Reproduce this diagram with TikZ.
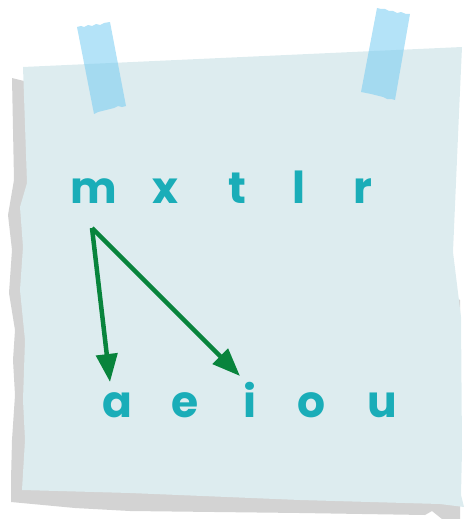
\documentclass[tikz,border=0pt]{standalone}
\usepackage{fontspec}
\setmainfont{Poppins}
\usepackage{tikz}
\usetikzlibrary{positioning, arrows.meta}

\definecolor{notebg}{RGB}{221,236,239}
\definecolor{noteshadow}{RGB}{211,211,211}
\definecolor{tapeblue}{RGB}{121,205,242}
\definecolor{letterteal}{RGB}{26,173,184}
\definecolor{arrowgreen}{RGB}{8,132,60}

\begin{document}
\begin{tikzpicture}[x=1pt, y=-1pt,
  ltr/.style={anchor=base, inner sep=0pt, text=letterteal,
    font=\fontsize{44}{44}\selectfont\bfseries},
  tape/.style={fill=tapeblue, fill opacity=0.56},
  link/.style={draw=arrowgreen, line width=4.5pt,
    -{Triangle[length=28pt,width=21pt]}}]
  \useasboundingbox (0,0) rectangle (467,519);
  % shadow and note
  \fill[noteshadow] (12,78) -- (14,180) -- (8,215) -- (12,250) -- (9,293)
    -- (15,330) -- (13,360) -- (15,395) -- (12,440) -- (11,480) -- (11,502)
    -- (75,508) -- (130,511) -- (300,513) -- (425,515) -- (432,511)
    -- (442,519) -- (460,519) -- (460,300) -- (100,100) -- cycle;
  \fill[notebg] (23,67) -- (462,47) -- (459,113) -- (453,252) -- (461,317)
    -- (462,450) -- (461,495) -- (464,507) -- (440,504) -- (300,500)
    -- (130,493) -- (22,490) -- (25,440) -- (23,400) -- (25,340)
    -- (20,290) -- (23,247) -- (20,207) -- (27,183) -- cycle;
  % tapes
  \fill[tape] (77,27) -- (81,26) -- (84,27) -- (88,25) -- (92,26) -- (96,24)
    -- (100,25) -- (104,23) -- (110,22) -- (126,106) -- (122,107)
    -- (118,106) -- (114,108) -- (110,109) -- (106,110) -- (102,111)
    -- (98,112) -- (94,114) -- cycle;
  \fill[tape] (377,8) -- (381,9) -- (385,9) -- (389,11) -- (393,11)
    -- (397,13) -- (401,12) -- (406,14) -- (410,14) -- (395,100)
    -- (391,99) -- (387,99) -- (383,97) -- (379,96) -- (375,95)
    -- (371,94) -- (366,93) -- (361,92) -- cycle;
  % consonants
  \node[ltr] (m) at (94,203) {m};
  \node[ltr] (x) at (165,203) {x};
  \node[ltr] (t) at (237,203) {t};
  \node[ltr] (l) at (299,203) {l};
  \node[ltr] (r) at (363,203) {r};
  % vowels
  \node[ltr] (a) at (117,417) {a};
  \node[ltr] (e) at (185,417) {e};
  \node[ltr] (i) at (250,417) {i};
  \node[ltr] (o) at (312,417) {o};
  \node[ltr] (u) at (382,417) {u};
  % arrows
  \coordinate (src) at (92,228);
  \coordinate (toA) at (110,382);
  \coordinate (toI) at (240,376);
  \draw[link] (src) -- (toA);
  \draw[link] (src) -- (toI);
\end{tikzpicture}
\end{document}
